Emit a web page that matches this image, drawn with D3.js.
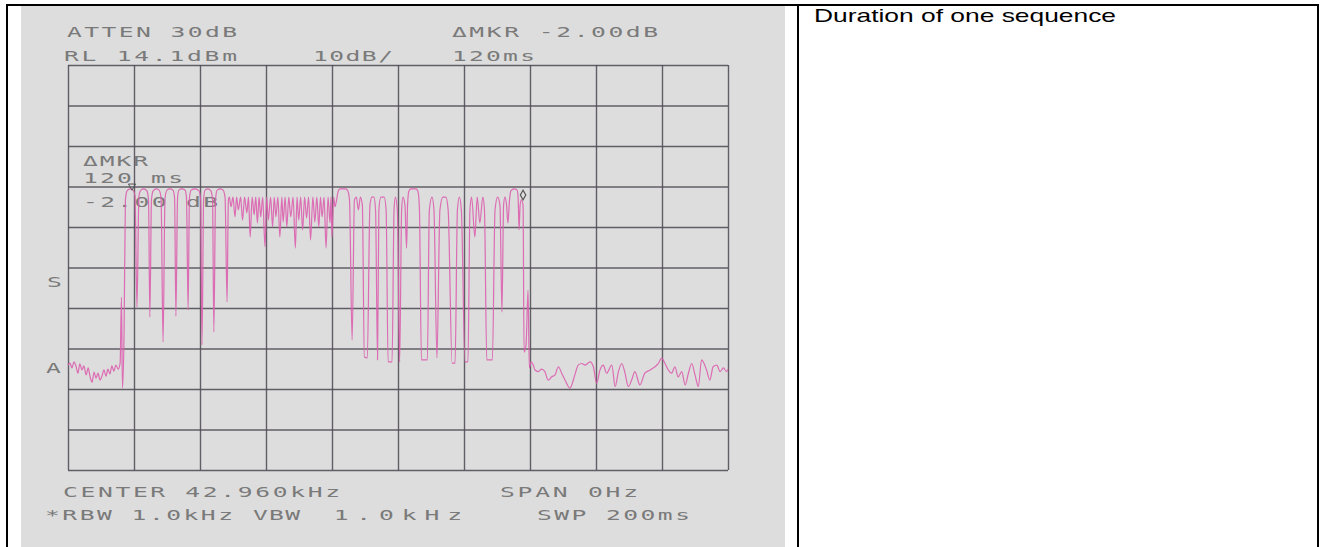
<!DOCTYPE html>
<html>
<head>
<meta charset="utf-8">
<script src="https://cdn.jsdelivr.net/npm/d3@7/dist/d3.min.js"></script>
<style>
  html, body { margin: 0; padding: 0; background: #fff; }
  svg { display: block; }
</style>
</head>
<body>
<svg id="page" width="1325" height="547"></svg>
<script>
// analyzer settings (zero span, 200ms sweep, 10dB/div from RL 14.1dBm)
const sweepMs = [0, 200];
const levelRange = [-85.9, 14.1];
const timeTicks = [0, 20, 40, 60, 80, 100, 120, 140, 160, 180, 200];
const levelTicks = [14.1, 4.1, -5.9, -15.9, -25.9, -35.9, -45.9, -55.9, -65.9, -75.9, -85.9];

// trace: [ms, dBm]
const floorBefore = [
  [0.0, -60.0], [0.6, -59.5], [1.2, -60.7], [1.8, -59.2], [2.4, -60.2], [3.0, -62.0],
  [3.6, -59.7], [4.2, -61.2], [4.8, -60.2], [5.5, -62.4], [6.1, -60.7], [6.7, -62.9],
  [7.3, -64.2], [7.9, -61.7], [8.5, -63.2], [9.1, -62.0], [9.7, -63.7], [10.3, -62.7],
  [10.9, -61.2], [11.5, -62.7], [12.1, -61.0], [12.7, -62.2], [13.3, -60.2], [13.9, -61.5],
  [14.5, -60.0], [15.2, -61.0], [15.8, -59.5], [16.2, -43.2], [16.5, -65.7], [17.0, -51.3]
];

const burstWide = [
  [17.4, -19.2], [17.9, -17.0], [18.8, -16.5], [19.7, -16.8], [20.3, -18.2], [20.9, -45.7],
  [21.5, -18.2], [22.1, -16.8], [23.0, -16.5], [23.9, -17.0], [24.4, -19.2], [24.8, -48.1],
  [25.3, -19.2], [25.8, -17.0], [26.7, -16.5], [27.6, -16.8], [28.2, -18.7], [28.8, -54.3],
  [29.4, -18.7], [30.0, -16.8], [30.9, -16.5], [31.8, -16.8], [32.3, -18.7], [32.7, -47.9],
  [33.2, -18.7], [33.6, -16.8], [34.5, -16.5], [35.5, -16.8], [35.9, -18.7], [36.4, -46.4],
  [36.8, -18.7], [37.3, -16.8], [38.5, -16.5], [39.7, -17.0], [40.2, -19.2], [40.6, -55.0],
  [41.1, -19.2], [41.5, -16.8], [42.4, -16.5], [43.3, -17.0], [43.8, -19.2], [44.2, -51.8],
  [44.7, -19.2], [45.2, -16.8], [46.1, -16.5], [47.0, -16.8], [47.6, -18.7], [48.2, -44.4],
  [48.6, -19.2]
];

const burstDense = [
  [48.9, -18.5], [49.4, -20.9], [50.0, -18.5], [50.6, -23.4], [51.1, -18.5], [51.6, -21.7],
  [52.3, -18.5], [52.9, -24.2], [53.5, -18.5], [54.2, -22.4], [54.7, -18.5], [55.2, -28.4],
  [55.8, -18.5], [56.4, -22.9], [56.9, -18.5], [57.4, -24.9], [57.9, -18.5], [58.4, -23.4],
  [59.0, -18.5], [59.7, -30.8], [60.2, -18.5], [60.7, -24.2], [61.4, -18.5], [62.0, -25.9],
  [62.5, -18.5], [63.0, -23.4], [63.6, -18.5], [64.2, -28.4], [64.8, -18.5], [65.2, -24.7],
  [65.8, -18.5], [66.3, -25.9], [66.9, -18.5], [67.5, -23.4], [68.2, -18.5], [68.9, -31.1],
  [69.4, -18.5], [69.9, -24.2], [70.5, -18.5], [71.1, -26.6], [71.7, -18.5], [72.3, -23.7],
  [72.9, -18.5], [73.5, -29.1], [74.2, -18.5], [74.8, -24.7], [75.4, -18.5], [76.0, -25.9],
  [76.5, -18.5], [77.0, -23.4], [77.6, -18.5], [78.2, -31.1], [78.8, -18.5], [79.4, -24.9],
  [79.7, -18.5], [80.0, -28.4], [80.5, -18.5], [80.9, -20.9]
];

const burstGaps = [
  [81.4, -19.2], [81.8, -17.3], [82.4, -16.5], [84.2, -16.5], [84.8, -17.0], [85.3, -19.2],
  [86.1, -53.8], [86.8, -19.2], [87.4, -18.5], [88.0, -21.7], [88.6, -18.5], [89.2, -20.5],
  [89.8, -58.0], [90.7, -58.2], [91.5, -20.5], [92.1, -18.5], [92.7, -18.5], [93.2, -21.7],
  [93.8, -58.7], [94.2, -21.7], [94.8, -18.5], [95.8, -18.5], [96.4, -21.7], [97.0, -59.2],
  [98.2, -59.2], [98.8, -21.7], [99.2, -18.5], [99.8, -21.7], [100.5, -59.2], [101.1, -21.7],
  [101.5, -18.5], [102.1, -20.5], [102.6, -31.1], [102.9, -20.5], [103.3, -17.0], [103.9, -16.5],
  [105.5, -16.5], [106.1, -17.3], [106.5, -21.7], [107.1, -58.7], [108.9, -58.7], [109.5, -21.7],
  [110.3, -18.5], [110.9, -21.7], [111.8, -58.2], [112.7, -21.7], [113.6, -18.5], [114.5, -18.5],
  [115.2, -21.7], [116.4, -59.5], [117.3, -59.5], [118.0, -21.7], [118.6, -18.5], [119.2, -21.7],
  [120.3, -59.2], [121.2, -59.2], [121.8, -21.7], [122.3, -18.5], [123.3, -28.4], [124.0, -18.5],
  [124.8, -24.9], [125.7, -18.5], [126.2, -21.7], [126.9, -58.7], [128.6, -58.7], [129.4, -21.7],
  [130.2, -18.5], [130.9, -20.5], [131.5, -46.9], [132.0, -20.5], [132.4, -18.5], [132.9, -20.5],
  [133.3, -24.9], [133.8, -19.2], [134.2, -17.0], [135.2, -16.5], [136.1, -16.8], [136.4, -18.7],
  [136.7, -26.6], [137.0, -20.5], [137.4, -19.2], [137.9, -20.5], [138.2, -56.8], [138.8, -55.0],
  [139.4, -41.5], [139.8, -60.7], [140.3, -59.2]
];

const floorAfter = [
  [141.0, -60.0], [141.5, -61.2], [142.5, -61.6], [143.5, -61.0], [144.5, -61.6], [145.5, -63.7],
  [146.6, -62.9], [147.6, -62.4], [148.6, -60.4], [149.6, -62.0], [150.6, -63.7], [152.1, -65.7],
  [153.6, -62.4], [154.6, -60.0], [155.7, -59.6], [156.7, -60.0], [158.2, -59.2], [159.2, -60.4],
  [160.2, -64.5], [161.2, -61.2], [162.2, -60.0], [163.2, -62.0], [164.8, -60.0], [165.8, -65.3],
  [166.8, -61.6], [167.8, -59.6], [168.8, -62.0], [169.8, -65.3], [170.8, -63.7], [171.8, -61.6],
  [173.3, -64.9], [174.8, -62.0], [176.4, -61.2], [177.9, -60.4], [178.9, -59.6], [179.9, -58.3],
  [180.9, -59.6], [181.9, -61.2], [182.9, -62.0], [183.9, -60.4], [184.9, -62.9], [186.0, -61.6],
  [187.0, -64.9], [188.0, -62.0], [189.0, -59.6], [190.0, -62.4], [191.0, -65.3], [192.0, -58.7],
  [193.5, -61.2], [194.5, -63.7], [195.5, -60.4], [196.6, -60.0], [197.6, -61.6], [198.6, -60.7],
  [199.6, -61.6], [200.0, -61.0]
];

// markers: reference (triangle) and delta (diamond)
const markerMs = [19.4, 137.9];
const markerDbm = [-15.8, -18.0];

// plotter annotations
const headerTexts = ["ATTEN 30dB", "RL 14.1dBm", "10dB/", "\u0394MKR -2.00dB", "120ms"];
const insetTexts = ["\u0394MKR", "120 ms", "-2.00 dB"];
const sideTexts = ["S", "A"];
const footerTexts = ["CENTER 42.960kHz", "*RBW 1.0kHz", "VBW", " 1.0kHz", "SPAN 0Hz", "SWP 200ms"];
const cellCaption = "Duration of one sequence";

///////////////////////////////////////////////////////////////////
// layout
///////////////////////////////////////////////////////////////////
const svg = d3.select("#page");

// table frame
svg.append("rect").attr("x", 0).attr("y", 0).attr("width", 1325).attr("height", 547).attr("fill", "#fff");
// scanned plot background
svg.append("rect")
  .attr("x", 21).attr("y", 6).attr("width", 764).attr("height", 541)
  .attr("fill", "#dddddd");

const border = svg.append("g").attr("stroke", "#000").attr("stroke-width", 2);
border.append("line").attr("x1", 6).attr("x2", 1319).attr("y1", 5).attr("y2", 5);
border.append("line").attr("x1", 7).attr("x2", 7).attr("y1", 4).attr("y2", 547);
border.append("line").attr("x1", 798).attr("x2", 798).attr("y1", 4).attr("y2", 547);
border.append("line").attr("x1", 1318).attr("x2", 1318).attr("y1", 4).attr("y2", 547);

svg.append("text")
  .attr("x", 814).attr("y", 22)
  .attr("font-family", "Liberation Sans, Arial, sans-serif")
  .attr("font-size", 18.5)
  .attr("fill", "#000")
  .attr("textLength", 302)
  .attr("lengthAdjust", "spacingAndGlyphs")
  .text(cellCaption);

// scales
const x = d3.scaleLinear().domain(sweepMs).range([68, 728]);
const y = d3.scaleLinear().domain(levelRange).range([470, 65]);

// graticule
const gridColor = "#534f58";
const grid = svg.append("g");
grid.append("g")
  .attr("transform", "translate(0,470)")
  .call(d3.axisBottom(x).tickValues(timeTicks).tickSize(-405).tickFormat(""))
  .call(g => g.select(".domain").remove());
grid.append("g")
  .attr("transform", "translate(68,0)")
  .call(d3.axisLeft(y).tickValues(levelTicks).tickSize(-660).tickFormat(""))
  .call(g => g.select(".domain").remove());
grid.selectAll(".tick line")
  .attr("stroke", gridColor)
  .attr("stroke-width", 1.4)
  .attr("stroke-opacity", 0.9);

// trace
const trace = floorBefore.concat(burstWide, burstDense, burstGaps, floorAfter);
const line = d3.line()
  .x(d => x(d[0]))
  .y(d => y(d[1]))
  .curve(d3.curveMonotoneX);

// plotter text, wide glyphs like the HP pen font
const sx = 1.7;
function plotterText(str, px, py, endX) {
  return svg.append("text")
    .attr("transform", "translate(" + px + "," + py + ") scale(" + sx + ",1)")
    .attr("font-family", "DejaVu Sans Mono, monospace")
    .attr("font-size", 14.5)
    .attr("fill", "#7a7a7a")
    .attr("textLength", (endX - px) / sx)
    .attr("lengthAdjust", "spacing")
    .text(str);
}

plotterText(headerTexts[0], 67, 37, 237);
plotterText(headerTexts[1], 64, 61, 237);
plotterText(headerTexts[2], 313, 61, 393);
plotterText(headerTexts[3], 452, 37, 658);
plotterText(headerTexts[4], 452, 61, 535);

plotterText(insetTexts[0], 83, 166, 148);
plotterText(insetTexts[1], 83, 183, 183);
plotterText(insetTexts[2], 83, 207, 218);

plotterText(sideTexts[0], 47, 287, 58);
plotterText(sideTexts[1], 46, 373, 59);

plotterText(footerTexts[0], 63, 497, 340);
plotterText(footerTexts[1], 45, 520, 233);
// VBW line: label and value sit in separate columns
const vbw = plotterText(footerTexts[2], 253, 520, 300);
vbw.append("tspan")
  .attr("x", (311 - 253) / sx)
  .attr("textLength", (462 - 311) / sx)
  .attr("lengthAdjust", "spacing")
  .text(footerTexts[3]);
vbw.attr("textLength", null);
vbw.node().firstChild.remove();
vbw.insert("tspan", "tspan")
  .attr("x", 0)
  .attr("textLength", (300 - 253) / sx)
  .attr("lengthAdjust", "spacing")
  .text(footerTexts[2]);
plotterText(footerTexts[4], 500, 497, 638);
plotterText(footerTexts[5], 537, 520, 690);

svg.append("path")
  .datum(trace)
  .attr("d", line)
  .attr("fill", "none")
  .attr("stroke", "#dc5fae")
  .attr("stroke-width", 1.2)
  .attr("stroke-opacity", 0.9)
  .attr("stroke-linejoin", "round");

// markers
svg.append("path")
  .attr("d", d3.symbol(d3.symbolTriangle, 22)())
  .attr("transform", "translate(" + x(markerMs[0]) + "," + y(markerDbm[0]) + ") rotate(180)")
  .attr("fill", "none")
  .attr("stroke", "#555")
  .attr("stroke-width", 1);
svg.append("path")
  .attr("d", d3.symbol(d3.symbolDiamond, 26)())
  .attr("transform", "translate(" + x(markerMs[1]) + "," + y(markerDbm[1]) + ")")
  .attr("fill", "none")
  .attr("stroke", "#555")
  .attr("stroke-width", 1.2);
</script>
</body>
</html>
